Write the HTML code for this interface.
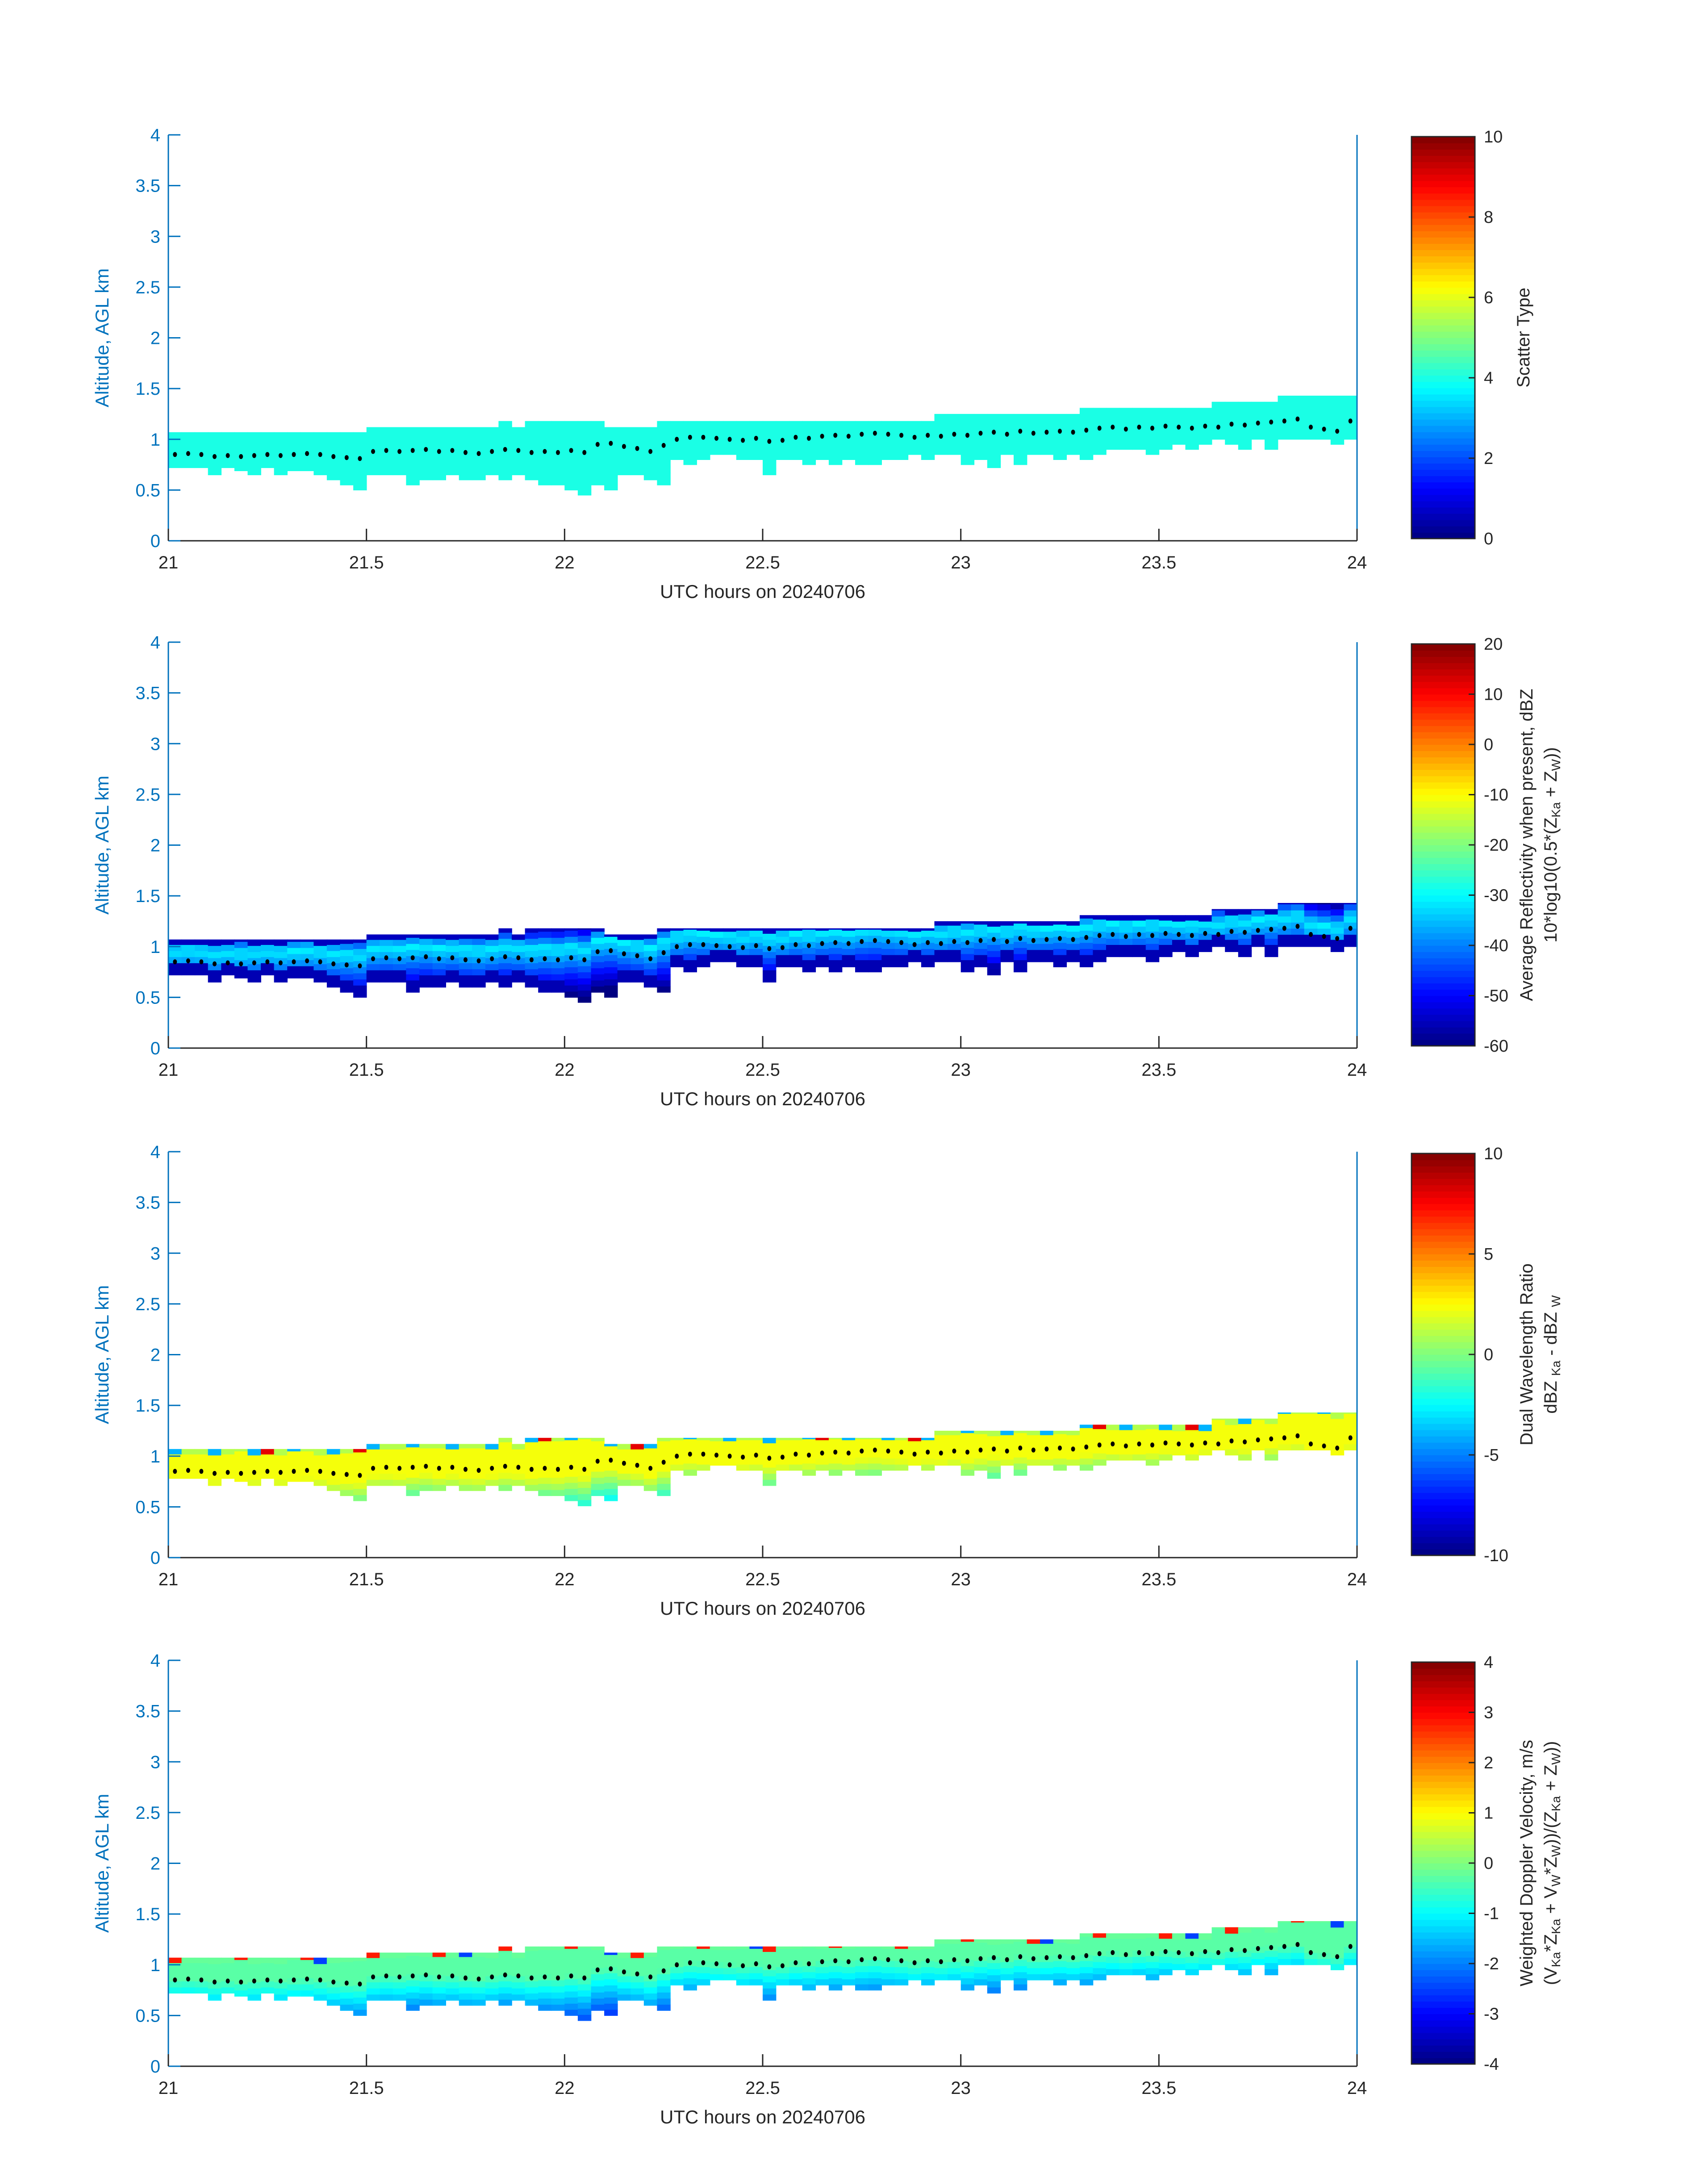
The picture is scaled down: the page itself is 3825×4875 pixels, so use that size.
<!DOCTYPE html>
<html><head><meta charset="utf-8">
<style>
html,body{margin:0;padding:0;background:#fff;}
svg{display:block;font-family:"Liberation Sans","DejaVu Sans",sans-serif;}
</style></head>
<body>
<svg id="fig" width="3825" height="4875" viewBox="0 0 3825 4875" xmlns="http://www.w3.org/2000/svg"></svg>
<script>
// ---- data (2-minute columns from 21.0 to 24.0 UTC) ----
const hoursStart = 21, hoursEnd = 24, colHours = 1/30;
const cloudTopKm = [1.07,1.07,1.07,1.07,1.07,1.07,1.07,1.07,1.07,1.07,1.07,1.07,1.07,1.07,1.07,
 1.12,1.12,1.12,1.12,1.12,1.12,1.12,1.12,1.12,1.12,1.18,1.12,
 1.18,1.18,1.18,1.18,1.18,1.18, 1.12,1.12,1.12,1.12,
 1.18,1.18,1.18,1.18,1.18,1.18,1.18,1.18,1.18,1.18,1.18,1.18,1.18,1.18,1.18,1.18,1.18,1.18,1.18,1.18,1.18,
 1.25,1.25,1.25,1.25,1.25,1.25,1.25,1.25,1.25,1.25,1.25,
 1.31,1.31,1.31,1.31,1.31,1.31,1.31,1.31,1.31,1.31,
 1.37,1.37,1.37,1.37,1.37, 1.43,1.43,1.43,1.43,1.43,1.43];
const cloudBaseKm = [0.72,0.72,0.72,0.65,0.72,0.69,0.65,0.72,0.65,0.69,0.69,0.65,0.60,0.55,0.50,
 0.65,0.65,0.65,0.55,0.60,0.60,0.65,0.60,0.60,0.65,0.60,0.65,0.60,0.55,0.55,
 0.50,0.45,0.55,0.50,0.65,0.65,0.60,0.55,
 0.80,0.75,0.80,0.85,0.85,0.80,0.80,0.65,
 0.80,0.80,0.75,0.80,0.75,0.80,0.75,0.75,0.80,0.80,0.85,0.80,0.85,0.85,
 0.75,0.80,0.72,0.85,0.75,0.85,0.85,0.80,0.85,0.80,0.85,0.90,0.90,0.90,0.85,
 0.90,0.95,0.90,0.95,1.00,0.95,0.90,1.00,0.90,1.00,1.00,1.00,1.00,0.95,1.00];
const centroidKm = [0.85,0.86,0.85,0.83,0.84,0.83,0.84,0.85,0.84,0.85,0.86,0.85,0.83,0.82,0.81,
 0.88,0.89,0.88,0.89,0.90,0.88,0.89,0.87,0.86,0.88,0.90,0.89,0.87,0.88,0.87,
 0.89,0.87,0.95,0.96,0.93,0.91,0.88,0.94,1.00,1.02,1.02,1.01,1.00,0.99,1.01,
 0.98,0.99,1.02,1.01,1.03,1.04,1.03,1.05,1.06,1.05,1.04,1.02,1.04,1.03,1.05,
 1.04,1.06,1.07,1.05,1.08,1.06,1.07,1.08,1.07,1.09,1.11,1.12,1.10,1.12,1.11,
 1.13,1.12,1.11,1.13,1.12,1.15,1.14,1.16,1.17,1.18,1.20,1.12,1.10,1.08,1.18];
const xTicks = [21,21.5,22,22.5,23,23.5,24];
const xTickLabels = ["21","21.5","22","22.5","23","23.5","24"];
const yTicks = [0,0.5,1,1.5,2,2.5,3,3.5,4];
const yTickLabels = ["0","0.5","1","1.5","2","2.5","3","3.5","4"];
const cbTicks1 = [0,2,4,6,8,10];
const cbTicks2 = [-60,-50,-40,-30,-20,-10,0,10,20];
const cbTicks3 = [-10,-5,0,5,10];
const cbTicks4 = [-4,-3,-2,-1,0,1,2,3,4];
const gateKm = 0.06;

// ---- layout ----
const NS = "http://www.w3.org/2000/svg";
const svg = document.getElementById('fig');
const AX_L = 377, AX_R = 3039, AX_H = 909;
const PANEL_TOPS = [302, 1438, 2579, 3718];
const CB_L = 3161, CB_R = 3303;
const BLUE = "#0072BD", DARK = "#262626";

function el(tag, attrs, parent){ const e=document.createElementNS(NS,tag); for(const k in attrs) e.setAttribute(k,attrs[k]); (parent||svg).appendChild(e); return e; }
function clamp(v){ return Math.max(0, Math.min(1, v)); }
function jet(t){ t=clamp(t); const r=clamp(1.5-Math.abs(4*t-3)), g=clamp(1.5-Math.abs(4*t-2)), b=clamp(1.5-Math.abs(4*t-1));
  return `rgb(${Math.round(r*255)},${Math.round(g*255)},${Math.round(b*255)})`; }

function valueFor(panel, i, z){
  const peak = centroidKm[i] + 0.08; const d = z - peak;
  const isTop = z + gateKm >= cloudTopKm[i] - 1e-6;
  const isBottom = z < cloudBaseKm[i] + gateKm*1.5;
  if(panel===0) return 4;
  if(panel===1){ let v = d>0 ? -31 - d*120 : -31 + d*60; if(isTop) v = Math.min(v,-55); if(isBottom) v = Math.min(v,-56); return Math.max(-60, Math.min(20, v)); }
  if(panel===2){ let v = 2.3; if(d < -0.18) v = 2.3 + (d+0.18)*15; if(isTop){ v = (i%3===0)?-4:((i%7===0)?8:1.0);} return Math.max(-10, Math.min(10, v)); }
  let v = -0.3; if(d < -0.1) v = -0.3 + (d+0.1)*5; if(isTop){ v = (i%5===0)?2.8:((i%11===0)?-2.5:-0.2);} return Math.max(-4, Math.min(4, v));
}

const ranges = [[0,10],[-60,20],[-10,10],[-4,4]];
const cbTicksAll = [cbTicks1, cbTicks2, cbTicks3, cbTicks4];
const cbTitles = [
  ["Scatter Type"],
  ["Average Reflectivity when present, dBZ", "10*log10(0.5*(Z<tspan font-size='28' dy='8'>Ka</tspan><tspan dy='-8'> + Z</tspan><tspan font-size='28' dy='8'>W</tspan><tspan dy='-8'>))</tspan>"],
  ["Dual Wavelength Ratio", "dBZ <tspan font-size='28' dy='8'>Ka</tspan><tspan dy='-8'> - dBZ </tspan><tspan font-size='28' dy='8'>W</tspan>"],
  ["Weighted Doppler Velocity, m/s", "(V<tspan font-size='28' dy='8'>Ka</tspan><tspan dy='-8'>*Z</tspan><tspan font-size='28' dy='8'>Ka</tspan><tspan dy='-8'> + V</tspan><tspan font-size='28' dy='8'>W</tspan><tspan dy='-8'>*Z</tspan><tspan font-size='28' dy='8'>W</tspan><tspan dy='-8'>))/(Z</tspan><tspan font-size='28' dy='8'>Ka</tspan><tspan dy='-8'> + Z</tspan><tspan font-size='28' dy='8'>W</tspan><tspan dy='-8'>))</tspan>"]
];

PANEL_TOPS.forEach((top, p) => {
  const bottom = top + AX_H;
  const xs = h => AX_L + (h - hoursStart)/(hoursEnd-hoursStart)*(AX_R-AX_L);
  const ys = km => bottom - km/4*AX_H;
  const g = el('g', {}, svg);
  
  
  const [vmin, vmax] = ranges[p];
  const cells = el('g', {}, g);
  
  
  for(let i=0;i<cloudTopKm.length;i++){
    const x0 = xs(hoursStart + i*colHours), x1 = xs(hoursStart + (i+1)*colHours);
    const base = p===2 ? cloudBaseKm[i] + gateKm : cloudBaseKm[i];
    for(let z = base; z < cloudTopKm[i] - 1e-6; z += gateKm){
      const zt = Math.min(z + gateKm, cloudTopKm[i]);
      const v = valueFor(p, i, z);
      const r = el('rect', {x:x0.toFixed(1), y:ys(zt).toFixed(1), width:(x1-x0+0.8).toFixed(1), height:(ys(z)-ys(zt)+0.8).toFixed(1), fill: jet((v-vmin)/(vmax-vmin))}, cells);
      
      
    }
  }
  for(let i=0;i<centroidKm.length;i++){
    const d = el('ellipse', {cx: xs(hoursStart + (i+0.5)*colHours).toFixed(1), cy: ys(centroidKm[i]).toFixed(1), rx:4.5, ry:5.5, fill:'#000'}, g);
    
    
  }
  const ax = el('g', {}, g);
  
  
  el('line', {x1:AX_L, y1:top, x2:AX_L, y2:bottom, stroke:BLUE, 'stroke-width':3}, ax);
  el('line', {x1:AX_R, y1:top, x2:AX_R, y2:bottom, stroke:BLUE, 'stroke-width':3}, ax);
  el('line', {x1:AX_L, y1:bottom, x2:AX_R, y2:bottom, stroke:DARK, 'stroke-width':3}, ax);
  yTicks.forEach((t, k) => {
    const y = ys(t);
    el('line', {x1:AX_L, y1:y, x2:AX_L+27, y2:y, stroke:BLUE, 'stroke-width':3}, ax);
    const tx = el('text', {x:AX_L-18, y:y+14, 'text-anchor':'end', 'font-size':40, fill:BLUE}, ax);
    tx.textContent = yTickLabels[k];
    
    
  });
  xTicks.forEach((t, k) => {
    const x = xs(t);
    el('line', {x1:x, y1:bottom, x2:x, y2:bottom-27, stroke:DARK, 'stroke-width':3}, ax);
    const tx = el('text', {x:x, y:bottom+62, 'text-anchor':'middle', 'font-size':40, fill:DARK}, ax);
    tx.textContent = xTickLabels[k];
    
    
  });
  const xl = el('text', {x:(AX_L+AX_R)/2, y:bottom+128, 'text-anchor':'middle', 'font-size':42, fill:DARK}, ax);
  xl.textContent = "UTC hours on 20240706";
  
  
  const yl = el('text', {x:0, y:0, 'text-anchor':'middle', 'font-size':42, fill:BLUE, transform:`translate(243,${top+AX_H/2}) rotate(-90)`}, ax);
  yl.textContent = "Altitude, AGL km";
  
  
  const cbTop = top + 4, cbBot = bottom - 5;
  const cb = el('g', {}, g);
  
  
  const N = 64;
  for(let k=0;k<N;k++){
    const y1 = cbBot - (k+1)/N*(cbBot-cbTop), y0 = cbBot - k/N*(cbBot-cbTop);
    el('rect', {x:CB_L, y:y1.toFixed(1), width:CB_R-CB_L, height:(y0-y1+0.8).toFixed(1), fill:jet((k+0.5)/N)}, cb);
  }
  el('rect', {x:CB_L, y:cbTop, width:CB_R-CB_L, height:cbBot-cbTop, fill:'none', stroke:DARK, 'stroke-width':3}, cb);
  cbTicksAll[p].forEach(t => {
    const y = cbBot - (t-vmin)/(vmax-vmin)*(cbBot-cbTop);
    el('line', {x1:CB_R, y1:y, x2:CB_R-14, y2:y, stroke:DARK, 'stroke-width':3}, cb);
    const tx = el('text', {x:CB_R+20, y:y+13, 'font-size':38, fill:DARK}, cb);
    tx.textContent = String(t);
    
    
  });
  const titles = cbTitles[p];
  const cx = titles.length===1 ? 3425 : 3432;
  titles.forEach((t, k) => {
    const tx = el('text', {x:0, y:0, 'text-anchor':'middle', 'font-size':40, fill:DARK, transform:`translate(${cx + k*54},${(cbTop+cbBot)/2}) rotate(-90)`}, cb);
    tx.innerHTML = t;
    
    
  });
});
</script>
</body></html>
